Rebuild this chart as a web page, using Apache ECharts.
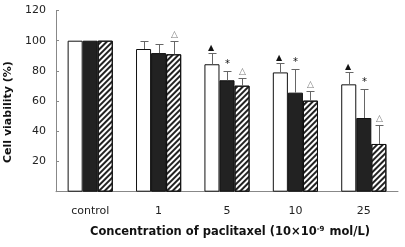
<!DOCTYPE html>
<html><head><meta charset="utf-8">
<script src="https://cdn.jsdelivr.net/npm/echarts@6/dist/echarts.min.js"></script>
<style>html,body{margin:0;padding:0;background:#fff}#c{width:405px;height:247px}</style>
</head><body><div id="c"></div>
<script>
var categories = ['control', '1', '5', '10', '25'];
var whiteVals = [100, 94.5, 84.4, 79.0, 71.1];
var blackVals = [100, 91.8, 73.8, 65.6, 48.8];
var hatchVals = [100, 91.0, 70.2, 60.3, 31.6];
var whiteErr = [0, 5.5, 7.2, 6.0, 8.4];
var blackErr = [0, 6.0, 6.2, 15.6, 19.0];
var hatchErr = [0, 9.0, 5.1, 6.4, 12.8];
var whiteMark = ['', '', '▲', '▲', '▲'];
var blackMark = ['', '', '*', '*', '*'];
var hatchMark = ['', '△', '△', '△', '△'];
var yTicks = [0, 20, 40, 60, 80, 100, 120];

var FONT = 'DejaVu Sans';
var BAR_FRAC = 0.22;

function errSeries(vals, errs, marks, k, markColor) {
  return {
    type: 'custom',
    z: 5,
    data: vals.map(function (v, i) { return [i, v, errs[i], marks[i]]; }),
    renderItem: function (params, api) {
      var i = api.value(0), v = api.value(1), e = api.value(2);
      var mark = marks[i];
      var bw = api.size([1, 0])[0];
      var off = (k - 1) * bw * BAR_FRAC;
      var base = api.coord([i, v]);
      var top = api.coord([i, v + e]);
      var x = Math.round(base[0] + off) + 0.5;
      var ty = Math.round(top[1]) + 0.5;
      var children = [];
      if (e > 0) {
        children.push({ type: 'line', shape: { x1: x, y1: base[1], x2: x, y2: ty }, style: { stroke: '#666', lineWidth: 1 } });
        children.push({ type: 'line', shape: { x1: x - 4, y1: ty, x2: x + 4, y2: ty }, style: { stroke: '#666', lineWidth: 1 } });
      }
      if (mark) {
        var sz = mark === '*' ? 10 : (mark === '▲' ? 8 : 9);
        var mx = mark === '▲' ? x - 1.5 : x;
        children.push({ type: 'text', style: { text: mark, x: mx, y: ty - 2, align: 'center', verticalAlign: 'bottom', fill: markColor, font: sz + 'px ' + FONT } });
      }
      return { type: 'group', children: children };
    }
  };
}

var chart = echarts.init(document.getElementById('c'), null, { renderer: 'canvas' });
chart.setOption({
  animation: false,
  grid: { left: 56, right: 7, top: 10.5, bottom: 55.3, outerBoundsMode: 'none', containLabel: false },
  xAxis: {
    type: 'category',
    data: categories,
    axisLine: { lineStyle: { color: '#888', width: 1 } },
    axisTick: { inside: true, length: 4, lineStyle: { color: '#888' } },
    axisLabel: { color: '#222', fontFamily: FONT, fontSize: 11, margin: 14 },
    name: 'Concentration of paclitaxel (10×10{sup|-9} mol/L)',
    nameLocation: 'middle',
    nameGap: 34,
    nameTextStyle: {
      fontFamily: FONT, fontSize: 11.5, fontWeight: 'bold', color: '#111', padding: [0, 0, 0, 6],
      rich: { sup: { fontFamily: FONT, fontSize: 7, fontWeight: 'bold', color: '#111', verticalAlign: 'top', padding: [0, 1, 5, 0] } }
    }
  },
  yAxis: {
    type: 'value', min: 0, max: 120, interval: 20,
    axisLine: { show: true, lineStyle: { color: '#888', width: 1 } },
    axisTick: { show: true, inside: true, length: 3, lineStyle: { color: '#888' } },
    splitLine: { show: false },
    axisLabel: {
      color: '#222', fontFamily: FONT, fontSize: 11, margin: 10,
      formatter: function (v) { return v === 0 ? '' : String(v); }
    },
    name: 'Cell viability (%)',
    nameLocation: 'middle',
    nameGap: 32,
    nameTextStyle: { fontFamily: FONT, fontSize: 11, fontWeight: 'bold', color: '#111', padding: [0, 22, 0, 0] }
  },
  series: [
    { type: 'bar', data: whiteVals, barWidth: (BAR_FRAC * 100) + '%', barGap: '0%', itemStyle: { color: '#fff', borderColor: '#111', borderWidth: 1 } },
    { type: 'bar', data: blackVals, barWidth: (BAR_FRAC * 100) + '%', barGap: '0%', itemStyle: { color: '#222', borderColor: '#111', borderWidth: 1 } },
    { type: 'bar', data: hatchVals, barWidth: (BAR_FRAC * 100) + '%', barGap: '0%', itemStyle: { color: '#fff', borderColor: '#111', borderWidth: 1,
      decal: { symbol: 'rect', symbolSize: 1, color: '#222', dashArrayX: [1, 0], dashArrayY: [1.2, 1.3], rotation: -Math.PI / 4 } } },
    errSeries(whiteVals, whiteErr, whiteMark, 0, '#111'),
    errSeries(blackVals, blackErr, blackMark, 1, '#111'),
    errSeries(hatchVals, hatchErr, hatchMark, 2, '#777')
  ]
});
</script></body></html>
